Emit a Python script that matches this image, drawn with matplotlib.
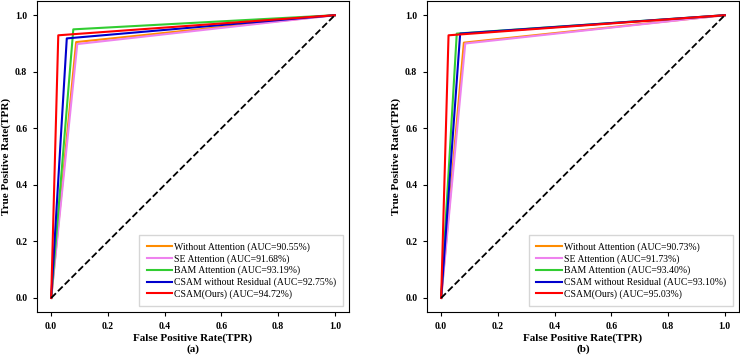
import matplotlib.pyplot as plt

plt.rcParams['font.family'] = ['Liberation Serif', 'DejaVu Serif']

# Model names and colours
models = ['Without Attention', 'SE Attention', 'BAM Attention',
          'CSAM without Residual', 'CSAM(Ours)']
colors = ['darkorange', 'violet', 'limegreen', 'mediumblue', 'red']

# (a) operating points and AUC
fpr_a = [0.088, 0.092, 0.078, 0.055, 0.025]
tpr_a = [0.905, 0.898, 0.950, 0.918, 0.929]
auc_a = ['90.55', '91.68', '93.19', '92.75', '94.72']

# (b) operating points and AUC
fpr_b = [0.080, 0.085, 0.055, 0.067, 0.026]
tpr_b = [0.903, 0.900, 0.935, 0.935, 0.929]
auc_b = ['90.73', '91.73', '93.40', '93.10', '95.03']

ticks = [0.0, 0.2, 0.4, 0.6, 0.8, 1.0]

fig = plt.figure(figsize=(7.4, 3.6), dpi=100)
ax_a = fig.add_axes([0.050, 0.133, 0.4216, 0.864])
ax_b = fig.add_axes([0.577, 0.133, 0.4216, 0.864])

panels = [(ax_a, fpr_a, tpr_a, auc_a, '(a)'),
          (ax_b, fpr_b, tpr_b, auc_b, '(b)')]

for ax, fpr, tpr, auc, tag in panels:
    for name, c, f, t, a in zip(models, colors, fpr, tpr, auc):
        ax.plot([0, f, 1], [0, t, 1], color=c, lw=1.5,
                label=f'{name} (AUC={a}%)')
    ax.plot([0, 1], [0, 1], color='black', lw=1.3, ls='--')
    ax.set_xlim(-0.05, 1.05)
    ax.set_ylim(-0.05, 1.05)
    ax.set_xticks(ticks)
    ax.set_yticks(ticks)
    ax.set_xticklabels([f'{v:.1f}' for v in ticks], fontsize=7, fontweight='bold')
    ax.set_yticklabels([f'{v:.1f}' for v in ticks], fontsize=7, fontweight='bold')
    ax.tick_params(length=3, width=0.8, pad=4)
    ax.set_xlabel('False Positive Rate(TPR)', fontsize=8, fontweight='bold',
                  labelpad=2)
    ax.set_ylabel('True Positive Rate(TPR)', fontsize=8, fontweight='bold',
                  labelpad=3)
    ax.text(0.5, -0.12, tag, transform=ax.transAxes, ha='center',
            va='center', fontsize=8, fontweight='bold')
    ax.legend(loc='lower right', fontsize=7, handlelength=2.6,
              handletextpad=0.2, borderpad=0.75, labelspacing=0.22,
              fancybox=False, borderaxespad=0.6)

plt.savefig('out.png', dpi=100)
